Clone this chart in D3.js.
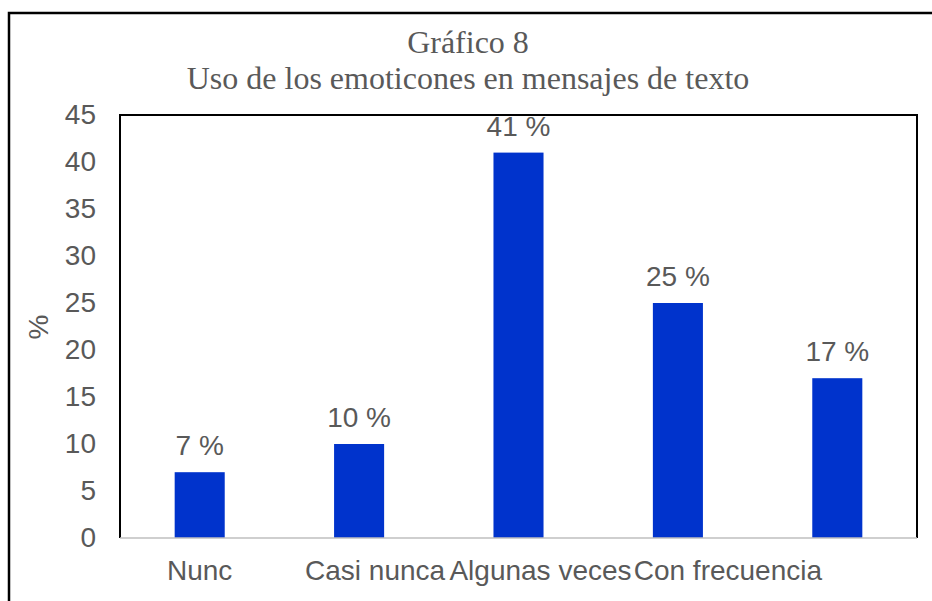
<!DOCTYPE html>
<html>
<head>
<meta charset="utf-8">
<script src="https://cdn.jsdelivr.net/npm/d3@7"></script>
<style>
  body { margin: 0; background: #fff; }
  text { fill: #595959; }
</style>
</head>
<body>
<div id="chart"></div>
<script>
// chart data
var categories = ["Nunc", "Casi nunca", "Algunas veces", "Con frecuencia", ""];
var values = [7, 10, 41, 25, 17];
var valueLabels = ["7 %", "10 %", "41 %", "25 %", "17 %"];
var yTicks = [0, 5, 10, 15, 20, 25, 30, 35, 40, 45];
var titleLines = ["Gráfico 8", "Uso de los emoticones en mensajes de texto"];
var yTitle = "%";

var W = 932, H = 601;
var plot = {left: 120, top: 115, right: 917, bottom: 538};
var sans = "'Liberation Sans', Arial, sans-serif";
// the crowded category labels are nudged right, as in the original
var labelShift = [0, 16, 22, 50, 0];

var svg = d3.select("#chart").append("svg")
    .attr("width", W)
    .attr("height", H);

// outer frame (runs off the right and bottom edge)
svg.append("rect")
    .attr("x", 9).attr("y", 13)
    .attr("width", 960).attr("height", 620)
    .attr("fill", "none")
    .attr("stroke", "#000")
    .attr("stroke-width", 2.5);

var x = d3.scaleBand()
    .domain(d3.range(categories.length))
    .range([plot.left, plot.right])
    .paddingInner(0.686)
    .paddingOuter(0.343);

var y = d3.scaleLinear()
    .domain([0, 45])
    .range([plot.bottom, plot.top]);

// plot border (left, top, right)
svg.append("path")
    .attr("d", "M" + plot.left + "," + plot.bottom + "V" + plot.top + "H" + plot.right + "V" + plot.bottom)
    .attr("fill", "none")
    .attr("stroke", "#000")
    .attr("stroke-width", 2);

// bars
svg.selectAll("rect.bar")
    .data(values)
    .enter().append("rect")
    .attr("class", "bar")
    .attr("x", function(d, i) { return x(i); })
    .attr("y", function(d) { return y(d); })
    .attr("width", x.bandwidth())
    .attr("height", function(d) { return y(0) - y(d); })
    .attr("fill", "#0033CC");

// category axis
svg.append("line")
    .attr("x1", plot.left).attr("x2", plot.right)
    .attr("y1", plot.bottom).attr("y2", plot.bottom)
    .attr("stroke", "#BFBFBF")
    .attr("stroke-width", 1.5);

svg.selectAll("text.cat")
    .data(categories)
    .enter().append("text")
    .attr("class", "cat")
    .attr("x", function(d, i) { return x(i) + x.bandwidth() / 2 + labelShift[i]; })
    .attr("y", 580)
    .attr("text-anchor", "middle")
    .style("font-family", sans)
    .style("font-size", "28px")
    .text(function(d) { return d; });

// value axis labels
var yAxis = svg.append("g")
    .attr("transform", "translate(" + plot.left + ",0)")
    .call(d3.axisLeft(y).tickValues(yTicks).tickSize(0).tickPadding(24));
yAxis.select(".domain").remove();
yAxis.selectAll("text")
    .style("font-family", sans)
    .style("font-size", "28px")
    .attr("fill", "#595959");

// data labels
svg.selectAll("text.val")
    .data(values)
    .enter().append("text")
    .attr("class", "val")
    .attr("x", function(d, i) { return x(i) + x.bandwidth() / 2; })
    .attr("y", function(d) { return y(d) - 17; })
    .attr("text-anchor", "middle")
    .style("font-family", sans)
    .style("font-size", "28px")
    .text(function(d, i) { return valueLabels[i]; });

// y title
svg.append("text")
    .attr("transform", "translate(48,327) rotate(-90)")
    .attr("text-anchor", "middle")
    .style("font-family", sans)
    .style("font-size", "28px")
    .text(yTitle);

// title
svg.selectAll("text.title")
    .data(titleLines)
    .enter().append("text")
    .attr("class", "title")
    .attr("x", 468)
    .attr("y", function(d, i) { return 53 + i * 36; })
    .attr("text-anchor", "middle")
    .style("font-family", "'Liberation Serif', 'Times New Roman', serif")
    .style("font-size", "32px")
    .text(function(d) { return d; });
</script>
</body>
</html>
